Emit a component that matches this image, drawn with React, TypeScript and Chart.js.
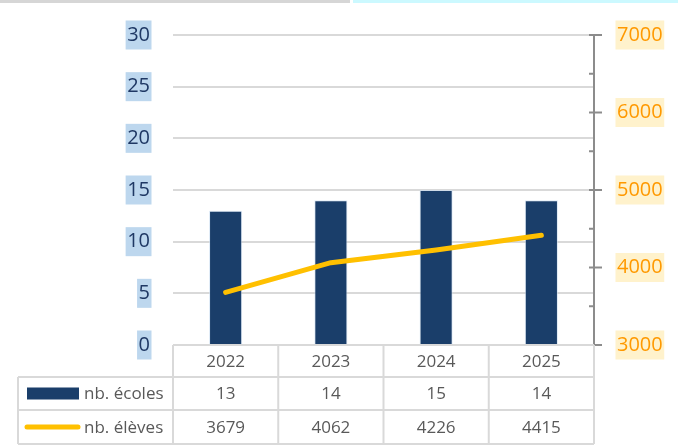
import React, { useEffect, useRef } from "react";
import { Chart, registerables } from "chart.js";

Chart.register(...registerables);

const years = ["2022", "2023", "2024", "2025"];
const ecoles = [13, 14, 15, 14];
const eleves = [3679, 4062, 4226, 4415];
const seriesNames = ["nb. écoles", "nb. élèves"];
const leftAxis = { min: 0, max: 30, step: 5 };
const rightAxis = { min: 3000, max: 7000, step: 1000, minorStep: 500 };

const FONT = "'Open Sans', 'Noto Sans', sans-serif";
const BAR_COLOR = "#1A3E6A";
const LINE_COLOR = "#FFC000";
const GRID = "#D9D9D9";
const TEXT = "#595959";

const tablePlugin = {
  id: "dataTable",
  afterDraw(chart: any) {
    const ctx = chart.ctx as CanvasRenderingContext2D;
    const { left, right, top, bottom } = chart.chartArea;
    const y2 = chart.scales.y2;
    ctx.save();

    // right axis line + ticks
    ctx.strokeStyle = "#8C8C8C";
    ctx.lineWidth = 2;
    ctx.beginPath();
    ctx.moveTo(right, top - 1);
    ctx.lineTo(right, bottom);
    ctx.stroke();
    for (let v = rightAxis.min; v <= rightAxis.max; v += rightAxis.minorStep) {
      const py = y2.getPixelForValue(v);
      const major = v % rightAxis.step === 0;
      ctx.beginPath();
      ctx.moveTo(right - 5, py);
      ctx.lineTo(major ? right + 8 : right, py);
      ctx.stroke();
    }

    // data table
    const n = years.length;
    const colW = (right - left) / n;
    const tableLeft = 18;
    const r0 = bottom;
    const r1 = bottom + 32;
    const r2 = bottom + 65;
    const r3 = bottom + 99;

    ctx.strokeStyle = GRID;
    ctx.lineWidth = 2;
    ctx.beginPath();
    ctx.moveTo(left, r0);
    ctx.lineTo(right, r0);
    [r1, r2, r3].forEach((ry) => {
      ctx.moveTo(tableLeft, ry);
      ctx.lineTo(right, ry);
    });
    ctx.moveTo(tableLeft, r1);
    ctx.lineTo(tableLeft, r3);
    for (let i = 0; i <= n; i++) {
      const cx = left + i * colW;
      ctx.moveTo(cx, r0);
      ctx.lineTo(cx, r3);
    }
    ctx.stroke();

    ctx.fillStyle = TEXT;
    ctx.font = `17px ${FONT}`;
    ctx.textAlign = "center";
    ctx.textBaseline = "middle";
    for (let i = 0; i < n; i++) {
      const cx = left + (i + 0.5) * colW;
      ctx.fillText(years[i], cx, (r0 + r1) / 2 + 1);
      ctx.fillText(String(ecoles[i]), cx, (r1 + r2) / 2 + 1);
      ctx.fillText(String(eleves[i]), cx, (r2 + r3) / 2 + 1);
    }

    // legend keys
    ctx.fillStyle = BAR_COLOR;
    ctx.fillRect(27, (r1 + r2) / 2 - 6, 52, 12);
    ctx.strokeStyle = LINE_COLOR;
    ctx.lineWidth = 5;
    ctx.lineCap = "round";
    ctx.beginPath();
    ctx.moveTo(27, (r2 + r3) / 2);
    ctx.lineTo(78, (r2 + r3) / 2);
    ctx.stroke();

    ctx.fillStyle = TEXT;
    ctx.textAlign = "left";
    ctx.fillText(seriesNames[0], 84, (r1 + r2) / 2 + 1);
    ctx.fillText(seriesNames[1], 84, (r2 + r3) / 2 + 1);

    ctx.restore();
  },
};

export default function App() {
  const ref = useRef<HTMLCanvasElement | null>(null);

  useEffect(() => {
    if (!ref.current) return;
    const chart = new Chart(ref.current, {
      type: "bar",
      data: {
        labels: years,
        datasets: [
          {
            type: "line",
            label: seriesNames[1],
            data: eleves,
            yAxisID: "y2",
            borderColor: LINE_COLOR,
            borderWidth: 5,
            pointRadius: 0,
            borderCapStyle: "round",
            borderJoinStyle: "round",
            tension: 0,
            order: 1,
          } as any,
          {
            type: "bar",
            label: seriesNames[0],
            data: ecoles,
            yAxisID: "y",
            backgroundColor: BAR_COLOR,
            borderColor: "rgba(200,220,240,0.6)",
            borderWidth: 1,
            categoryPercentage: 1,
            barPercentage: 0.315,
            order: 2,
          },
        ],
      },
      options: {
        responsive: false,
        animation: false,
        layout: { padding: { top: 35, bottom: 102, left: 0, right: 0 } },
        plugins: { legend: { display: false }, tooltip: { enabled: false } },
        scales: {
          x: { display: false, offset: true },
          y: {
            position: "left",
            min: leftAxis.min,
            max: leftAxis.max,
            afterFit: (s: any) => {
              s.width = 173;
            },
            border: { display: false },
            grid: { color: GRID, lineWidth: 2, drawTicks: false },
            ticks: {
              stepSize: leftAxis.step,
              padding: 23,
              color: "#1F3864",
              font: { family: FONT, size: 20 },
              showLabelBackdrop: true,
              backdropColor: "#BDD7EE",
              backdropPadding: { top: 2.5, bottom: 2.5, left: 1.5, right: 1.5 },
              callback: (v: any) => String(v),
            },
          },
          y2: {
            position: "right",
            min: rightAxis.min,
            max: rightAxis.max,
            afterFit: (s: any) => {
              s.width = 84;
            },
            border: { display: false },
            grid: { display: false, drawTicks: false },
            ticks: {
              stepSize: rightAxis.step,
              padding: 23,
              color: "#FF9900",
              font: { family: FONT, size: 20 },
              showLabelBackdrop: true,
              backdropColor: "#FFF2CC",
              backdropPadding: { top: 2.5, bottom: 2.5, left: 1.5, right: 1.5 },
              callback: (v: any) => String(v),
            },
          },
        },
      },
      plugins: [tablePlugin],
    });
    return () => chart.destroy();
  }, []);

  return (
    <div style={{ position: "fixed", left: 0, top: 0, width: 678, height: 447, background: "#fff" }}>
      <div style={{ position: "absolute", left: 0, top: 0, width: 350, height: 3, background: "#D6D6D6" }} />
      <div style={{ position: "absolute", left: 353, top: 0, width: 325, height: 3, background: "#CCF9FF" }} />
      <canvas ref={ref} width={678} height={447} style={{ position: "absolute", left: 0, top: 0 }} />
    </div>
  );
}
